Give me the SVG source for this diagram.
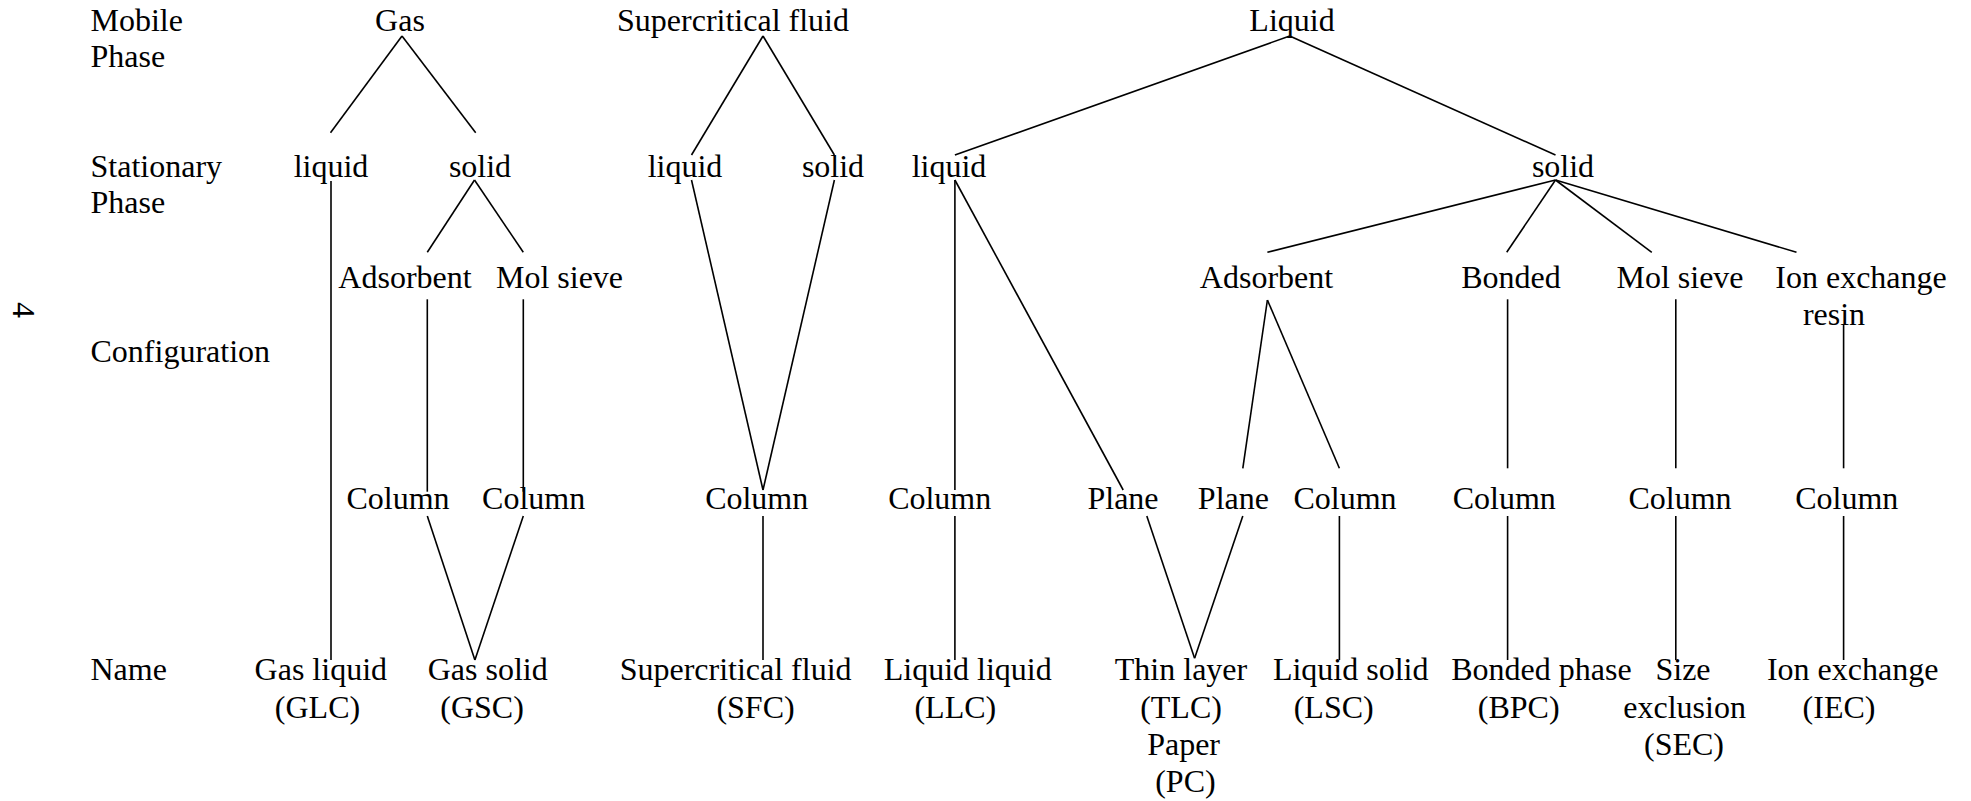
<svg xmlns="http://www.w3.org/2000/svg" width="1971" height="801" viewBox="0 0 1971 801">
<style>
text{font-family:"Liberation Serif","Times New Roman",serif;font-size:32px;fill:#000}
.c{text-anchor:middle}
.conn line{stroke:#000;stroke-width:1.6;fill:none}
</style>
<rect x="0" y="0" width="1971" height="801" fill="#fff"/>
<text transform="translate(13,310) rotate(90)" class="c">4</text>
<g id="row-labels">
<text x="90.5" y="31">Mobile</text>
<text x="90.5" y="67">Phase</text>
<text x="90.5" y="177">Stationary</text>
<text x="90.5" y="213">Phase</text>
<text x="90.5" y="362">Configuration</text>
<text x="90.5" y="680">Name</text>
</g>
<g class="conn" id="connectors">
<line x1="402" y1="36" x2="330.5" y2="132.7"/>
<line x1="402" y1="36" x2="475.7" y2="132.7"/>
<line x1="331" y1="181" x2="331" y2="660"/>
<line x1="474.5" y1="180" x2="427.3" y2="252.3"/>
<line x1="474.5" y1="180" x2="523.3" y2="252.3"/>
<line x1="427.3" y1="299.3" x2="427.3" y2="491.7"/>
<line x1="523.3" y1="299.3" x2="523.3" y2="491.7"/>
<line x1="427.3" y1="516" x2="474.9" y2="660"/>
<line x1="523.3" y1="516" x2="474.9" y2="660"/>
<line x1="763" y1="36" x2="691.5" y2="155"/>
<line x1="763" y1="36" x2="834.4" y2="155"/>
<line x1="691.5" y1="180" x2="763" y2="490"/>
<line x1="834.4" y1="180" x2="763" y2="490"/>
<line x1="763" y1="516" x2="763" y2="660"/>
<line x1="1289.7" y1="36" x2="954.9" y2="155"/>
<line x1="1289.7" y1="36" x2="1555.5" y2="155"/>
<line x1="954.9" y1="180" x2="954.9" y2="490"/>
<line x1="954.9" y1="180" x2="1123.2" y2="490"/>
<line x1="954.9" y1="516" x2="954.9" y2="660"/>
<line x1="1555.5" y1="180" x2="1267.4" y2="252.3"/>
<line x1="1555.5" y1="180" x2="1506.7" y2="252.3"/>
<line x1="1555.5" y1="180" x2="1651.8" y2="252.3"/>
<line x1="1555.5" y1="180" x2="1796.5" y2="252.3"/>
<line x1="1267.4" y1="300" x2="1242.8" y2="468.3"/>
<line x1="1267.4" y1="300" x2="1339.4" y2="468.3"/>
<line x1="1146.8" y1="516" x2="1194.6" y2="658.3"/>
<line x1="1242.8" y1="516" x2="1194.6" y2="658.3"/>
<line x1="1339.4" y1="516" x2="1339.4" y2="660"/>
<line x1="1507.6" y1="299.3" x2="1507.6" y2="468.3"/>
<line x1="1507.6" y1="516" x2="1507.6" y2="660"/>
<line x1="1675.8" y1="299.3" x2="1675.8" y2="468.3"/>
<line x1="1675.8" y1="516" x2="1675.8" y2="660"/>
<line x1="1843.6" y1="325" x2="1843.6" y2="468.3"/>
<line x1="1843.6" y1="516" x2="1843.6" y2="660"/>
</g>
<g id="n-gas"><text class="c" x="400" y="31">Gas</text></g>
<g id="n-scf"><text class="c" x="733" y="31">Supercritical fluid</text></g>
<g id="n-liq"><text class="c" x="1292" y="31">Liquid</text></g>
<g id="n-gas-liquid"><text class="c" x="331" y="177">liquid</text></g>
<g id="n-gas-solid"><text class="c" x="480" y="177">solid</text></g>
<g id="n-scf-liquid"><text class="c" x="685" y="177">liquid</text></g>
<g id="n-scf-solid"><text class="c" x="833" y="177">solid</text></g>
<g id="n-liq-liquid"><text class="c" x="949" y="177">liquid</text></g>
<g id="n-liq-solid"><text class="c" x="1563" y="177">solid</text></g>
<g id="n-gas-ads"><text class="c" x="405" y="288">Adsorbent</text></g>
<g id="n-gas-mol"><text class="c" x="559.5" y="288">Mol sieve</text></g>
<g id="n-liq-ads"><text class="c" x="1266.5" y="288">Adsorbent</text></g>
<g id="n-liq-bond"><text class="c" x="1511" y="288">Bonded</text></g>
<g id="n-liq-mol"><text class="c" x="1680" y="288">Mol sieve</text></g>
<g id="n-liq-ion"><text class="c" x="1861" y="288">Ion exchange</text><text class="c" x="1834" y="325">resin</text></g>
<g id="n-col1"><text class="c" x="398" y="509">Column</text></g>
<g id="n-col2"><text class="c" x="533.6" y="509">Column</text></g>
<g id="n-col3"><text class="c" x="756.7" y="509">Column</text></g>
<g id="n-col4"><text class="c" x="939.7" y="509">Column</text></g>
<g id="n-plane1"><text class="c" x="1123" y="509">Plane</text></g>
<g id="n-plane2"><text class="c" x="1233.4" y="509">Plane</text></g>
<g id="n-col5"><text class="c" x="1345" y="509">Column</text></g>
<g id="n-col6"><text class="c" x="1504.3" y="509">Column</text></g>
<g id="n-col7"><text class="c" x="1680" y="509">Column</text></g>
<g id="n-col8"><text class="c" x="1846.8" y="509">Column</text></g>
<g id="n-glc"><text class="c" x="320.8" y="680">Gas liquid</text><text class="c" x="317.5" y="718">(GLC)</text></g>
<g id="n-gsc"><text class="c" x="487.7" y="680">Gas solid</text><text class="c" x="482" y="718">(GSC)</text></g>
<g id="n-sfc"><text class="c" x="735.6" y="680">Supercritical fluid</text><text class="c" x="755.5" y="718">(SFC)</text></g>
<g id="n-llc"><text class="c" x="967.7" y="680">Liquid liquid</text><text class="c" x="955.3" y="718">(LLC)</text></g>
<g id="n-tlc"><text class="c" x="1181" y="680">Thin layer</text><text class="c" x="1181" y="718">(TLC)</text><text class="c" x="1183.6" y="755">Paper</text><text class="c" x="1185.4" y="792">(PC)</text></g>
<g id="n-lsc"><text class="c" x="1350.7" y="680">Liquid solid</text><text class="c" x="1333.7" y="718">(LSC)</text></g>
<g id="n-bpc"><text class="c" x="1541.4" y="680">Bonded phase</text><text class="c" x="1518.7" y="718">(BPC)</text></g>
<g id="n-sec"><text class="c" x="1683" y="680">Size</text><text class="c" x="1684.6" y="718">exclusion</text><text class="c" x="1684" y="755">(SEC)</text></g>
<g id="n-iec"><text class="c" x="1852.7" y="680">Ion exchange</text><text class="c" x="1839" y="718">(IEC)</text></g>
</svg>
